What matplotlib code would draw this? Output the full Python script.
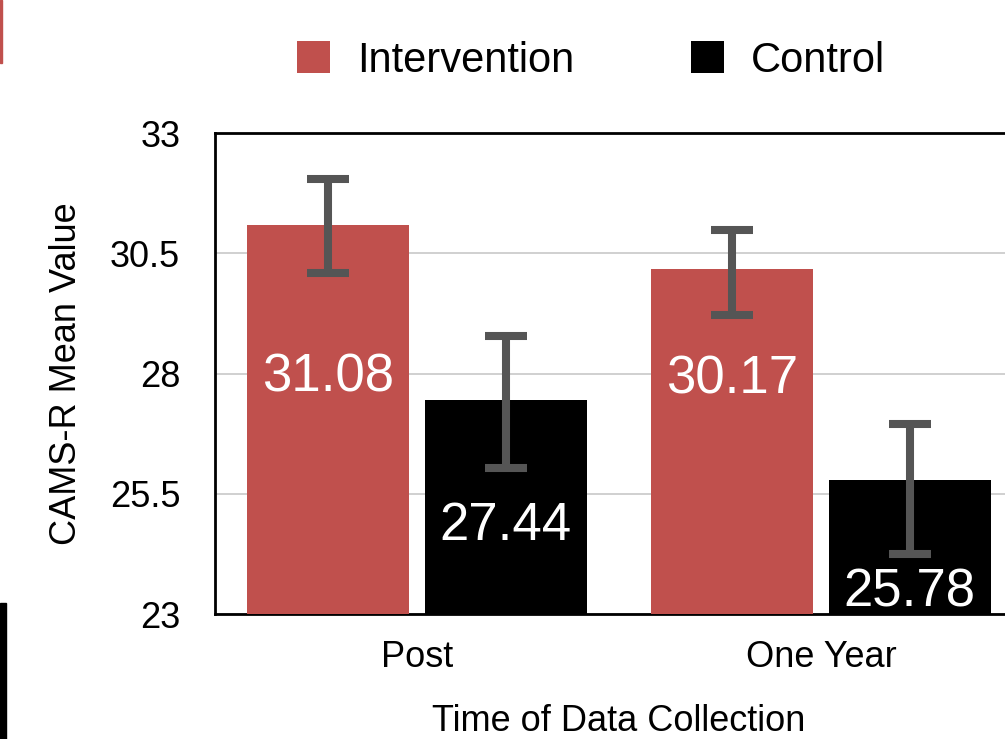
import matplotlib
matplotlib.use("Agg")
import matplotlib.pyplot as plt
from matplotlib.patches import Patch, Rectangle
import numpy as np

plt.rcParams['font.family'] = ['Liberation Sans', 'DejaVu Sans']

# data
groups = ['Post', 'One Year']
series = ['Intervention', 'Control']
intervention = [31.08, 30.17]
control = [27.44, 25.78]
# error bars (lower, upper)
intervention_err_lo = [0.99, 0.95]
intervention_err_hi = [0.97, 0.81]
control_err_lo = [1.40, 1.54]
control_err_hi = [1.34, 1.18]
y_ticks = [23, 25.5, 28, 30.5, 33]
y_tick_labels = ['23', '25.5', '28', '30.5', '33']

red = '#C0504D'
black = '#000000'
err_col = '#555555'

fig = plt.figure(figsize=(10.05, 7.39), dpi=100)
ax = fig.add_axes([0.2139, 0.1691, 0.804, 0.6509])

x = np.arange(len(groups))
w = 0.40
off = 0.22

err_kw = dict(ecolor=err_col, elinewidth=5.8, capsize=14.8, capthick=5.8)
ax.bar(x - off, intervention, w, color=red,
       yerr=[intervention_err_lo, intervention_err_hi],
       error_kw=err_kw, zorder=3)
ax.bar(x + off, control, w, color=black,
       yerr=[control_err_lo, control_err_hi],
       error_kw=err_kw, zorder=3)

# value labels inside bars
int_label_y = [27.92, 27.88]
ctl_label_y = [24.82, 23.45]
for i in range(len(groups)):
    ax.text(x[i] - off, int_label_y[i], f'{intervention[i]:.2f}', color='white',
            fontsize=38, ha='center', va='center', zorder=4)
    ax.text(x[i] + off, ctl_label_y[i], f'{control[i]:.2f}', color='white',
            fontsize=38, ha='center', va='center', zorder=4)

ax.set_xlim(-0.5, 1.5)
ax.set_ylim(23, 33)
ax.set_yticks(y_ticks)
ax.set_yticklabels(y_tick_labels)
ax.set_xticks(x)
ax.set_xticklabels(groups)
ax.tick_params(axis='both', length=0, labelsize=26)
ax.tick_params(axis='y', pad=25)
ax.tick_params(axis='x', pad=18.5)

ax.yaxis.grid(True, color='#C8C8C8', linewidth=1.2, zorder=0)
ax.set_axisbelow(True)

for side in ['left', 'top', 'bottom']:
    ax.spines[side].set_linewidth(2)
    ax.spines[side].set_color('black')
ax.spines['right'].set_visible(False)

ax.set_xlabel('Time of Data Collection', fontsize=26, labelpad=21)
ax.set_ylabel('CAMS-R Mean Value', fontsize=26, labelpad=18.5)

handles = [Patch(facecolor=red), Patch(facecolor=black)]
fig.legend(handles, series, loc='center', bbox_to_anchor=(0.588, 0.918),
           ncol=2, frameon=False, fontsize=30, handlelength=0.79,
           handleheight=0.79, handletextpad=0.65, columnspacing=2.8)

# cropping remnants at the left edge
fig.patches.append(Rectangle((0, 1 - 63 / 739), 2 / 1005, 63 / 739,
                             transform=fig.transFigure, color=red))
fig.patches.append(Rectangle((0, 0), 6 / 1005, 136 / 739,
                             transform=fig.transFigure, color=black))

fig.savefig('out.png', dpi=100)
